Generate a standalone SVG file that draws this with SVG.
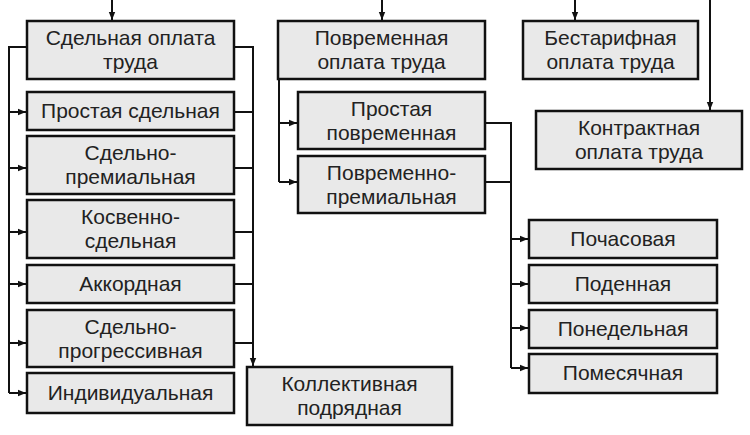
<svg xmlns="http://www.w3.org/2000/svg" width="750" height="435" viewBox="0 0 750 435">
<defs>
<style>
.box{fill:#e9e9e9;stroke:#111;stroke-width:2.5}
.t{font-family:"Liberation Sans",Arial,sans-serif;font-size:21px;fill:#222;text-anchor:middle}
.c{fill:none;stroke:#111;stroke-width:2}
</style>
<marker id="ah" viewBox="0 0 10 10" refX="10" refY="5" markerWidth="4" markerHeight="4" markerUnits="strokeWidth" orient="auto">
<path d="M0,1 L10,5 L0,9 z" fill="#111"/>
</marker>
</defs>
<rect width="750" height="435" fill="#fff"/>
<g id="connectors">
<path class="c" d="M112,0 V20" marker-end="url(#ah)"/>
<path class="c" d="M382,0 V20" marker-end="url(#ah)"/>
<path class="c" d="M575,0 V20" marker-end="url(#ah)"/>
<path class="c" d="M710,0 V110" marker-end="url(#ah)"/>
<path class="c" d="M27,47 H9 V393"/>
<path class="c" d="M9,112 H26" marker-end="url(#ah)"/>
<path class="c" d="M9,168 H26" marker-end="url(#ah)"/>
<path class="c" d="M9,232 H26" marker-end="url(#ah)"/>
<path class="c" d="M9,284 H26" marker-end="url(#ah)"/>
<path class="c" d="M9,343 H26" marker-end="url(#ah)"/>
<path class="c" d="M9,393 H26" marker-end="url(#ah)"/>
<path class="c" d="M234,47 H253 V366" marker-end="url(#ah)"/>
<path class="c" d="M234,112 H253 M234,168 H253 M234,232 H253 M234,284 H253 M234,343 H253"/>
<path class="c" d="M279,79 V182"/>
<path class="c" d="M279,123 H297" marker-end="url(#ah)"/>
<path class="c" d="M279,182 H297" marker-end="url(#ah)"/>
<path class="c" d="M485,123 H511 V368 M485,182 H511"/>
<path class="c" d="M511,239 H528" marker-end="url(#ah)"/>
<path class="c" d="M511,284 H528" marker-end="url(#ah)"/>
<path class="c" d="M511,328 H528" marker-end="url(#ah)"/>
<path class="c" d="M511,368 H528" marker-end="url(#ah)"/>
</g>
<g id="n1"><rect class="box" x="27" y="21" width="207" height="58"/><text class="t" x="130.5" y="45">Сдельная оплата</text><text class="t" x="130.5" y="69">труда</text></g>
<g id="n2"><rect class="box" x="27" y="92" width="207" height="38"/><text class="t" x="130.5" y="118">Простая сдельная</text></g>
<g id="n3"><rect class="box" x="27" y="136" width="207" height="58"/><text class="t" x="130.5" y="160">Сдельно-</text><text class="t" x="130.5" y="184">премиальная</text></g>
<g id="n4"><rect class="box" x="27" y="200" width="207" height="58"/><text class="t" x="130.5" y="224">Косвенно-</text><text class="t" x="130.5" y="248">сдельная</text></g>
<g id="n5"><rect class="box" x="27" y="265" width="207" height="38"/><text class="t" x="130.5" y="291">Аккордная</text></g>
<g id="n6"><rect class="box" x="27" y="310" width="207" height="57"/><text class="t" x="130.5" y="334">Сдельно-</text><text class="t" x="130.5" y="358">прогрессивная</text></g>
<g id="n7"><rect class="box" x="27" y="373" width="207" height="40"/><text class="t" x="130.5" y="400">Индивидуальная</text></g>
<g id="n8"><rect class="box" x="247" y="367" width="205" height="58"/><text class="t" x="349.5" y="391">Коллективная</text><text class="t" x="349.5" y="415">подрядная</text></g>
<g id="n9"><rect class="box" x="278" y="21" width="207" height="58"/><text class="t" x="381.5" y="45">Повременная</text><text class="t" x="381.5" y="69">оплата труда</text></g>
<g id="n10"><rect class="box" x="298" y="92" width="187" height="57"/><text class="t" x="391.5" y="116">Простая</text><text class="t" x="391.5" y="140">повременная</text></g>
<g id="n11"><rect class="box" x="298" y="156" width="187" height="57"/><text class="t" x="391.5" y="180">Повременно-</text><text class="t" x="391.5" y="204">премиальная</text></g>
<g id="n12"><rect class="box" x="523" y="21" width="175" height="58"/><text class="t" x="610.5" y="45">Бестарифная</text><text class="t" x="610.5" y="69">оплата труда</text></g>
<g id="n13"><rect class="box" x="536" y="111" width="206" height="58"/><text class="t" x="639" y="135">Контрактная</text><text class="t" x="639" y="159">оплата труда</text></g>
<g id="n14"><rect class="box" x="529" y="220" width="188" height="38"/><text class="t" x="623" y="246">Почасовая</text></g>
<g id="n15"><rect class="box" x="529" y="265" width="188" height="38"/><text class="t" x="623" y="291">Поденная</text></g>
<g id="n16"><rect class="box" x="529" y="310" width="188" height="38"/><text class="t" x="623" y="336">Понедельная</text></g>
<g id="n17"><rect class="box" x="529" y="354" width="188" height="39"/><text class="t" x="623" y="380">Помесячная</text></g>
</svg>
